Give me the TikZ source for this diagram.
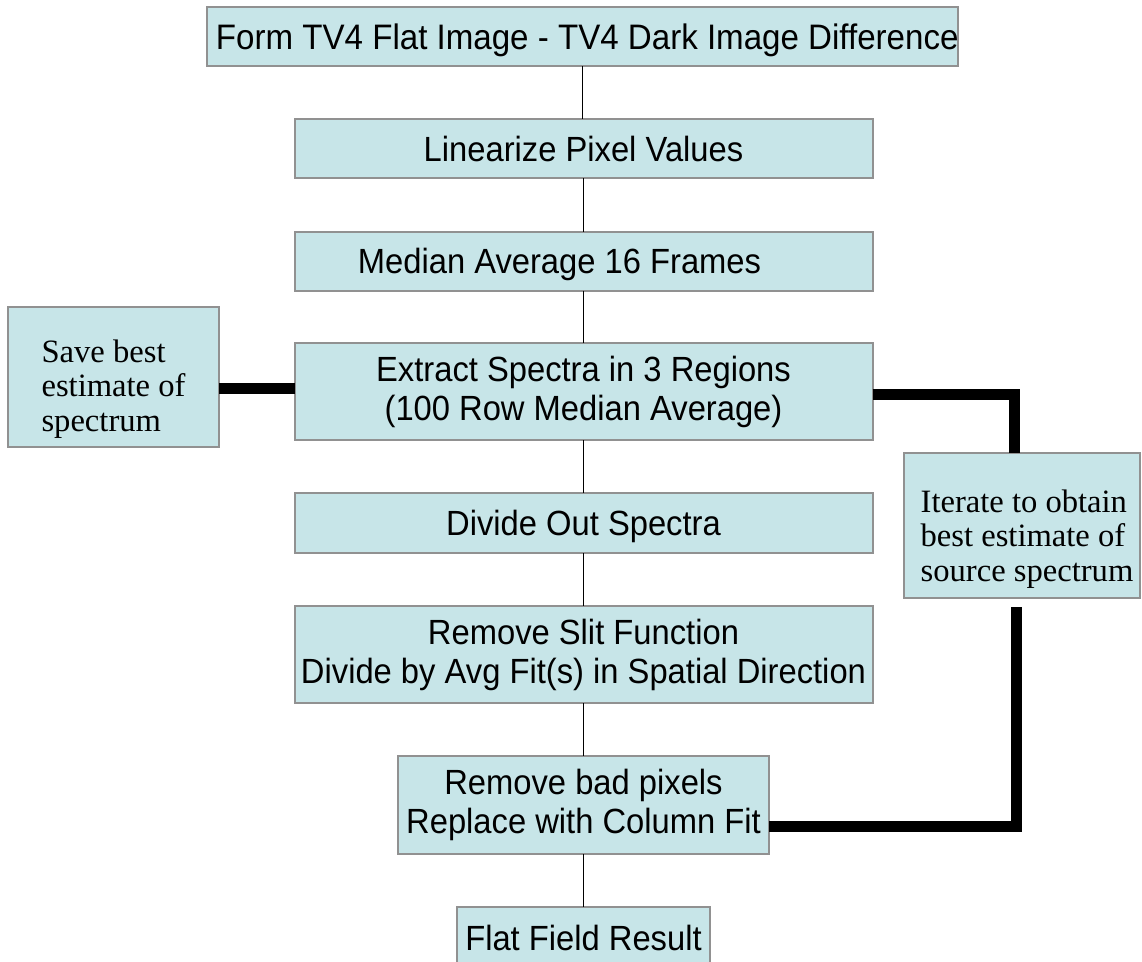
\documentclass[tikz,border=0pt]{standalone}
\usepackage{fontspec}
\setmainfont{Liberation Sans}[FakeStretch=0.935]
\newfontfamily\serifrm{Liberation Serif}
\definecolor{boxfill}{RGB}{199,229,232}
\definecolor{boxline}{RGB}{145,145,145}
\begin{document}
\begin{tikzpicture}[x=1pt,y=-1pt,
  box/.style={draw=boxline, line width=2pt, fill=boxfill, inner sep=0pt, outer sep=0pt,
    font=\fontsize{35}{39}\selectfont, align=center},
  onebox/.style={box, text height=25pt, text depth=0pt},
  sidebox/.style={box, font=\serifrm\fontsize{32.6}{34.5}\selectfont, align=left},
  thinc/.style={line width=1.6pt},
  thickc/.style={line width=11pt, line join=miter}]
\useasboundingbox (0,0) rectangle (1142,961);

\node[onebox, minimum width=751pt, minimum height=59pt, font=\fontsize{35.4}{39}\selectfont] (form) at (582.5,36.5)
  {\makebox[741pt][r]{Form TV4 Flat Image - TV4 Dark Image Difference}\hspace*{-11pt}};
\node[onebox, minimum width=578pt, minimum height=59pt] (lin) at (583.5,148.5) {Linearize Pixel Values};
\node[onebox, minimum width=578pt, minimum height=59pt] (med) at (583.5,261) {Median Average 16 Frames\hspace*{48pt}};
\node[box, minimum width=578pt, minimum height=97pt] (ext) at (583.5,391.5) {Extract Spectra in 3 Regions\\(100 Row Median Average)};
\node[onebox, minimum width=578pt, minimum height=60pt] (div) at (583.5,523) {Divide Out Spectra};
\node[box, minimum width=578pt, minimum height=97pt] (slit) at (583.5,654.5) {Remove Slit Function\\Divide by Avg Fit(s) in Spatial Direction};
\node[box, minimum width=371pt, minimum height=98pt] (bad) at (583.5,805) {Remove bad pixels\\Replace with Column Fit};
\node[onebox, minimum width=253pt, minimum height=62pt] (flat) at (583.5,938) {Flat Field Result};

\node[sidebox, minimum width=211pt, minimum height=140pt] (save) at (113.5,377)
  {\rule{0pt}{46pt}Save best\\estimate of\\spectrum};
\node[sidebox, minimum width=236pt, minimum height=145pt] (iter) at (1022,525.5)
  {\rule{0pt}{49pt}\hspace*{10pt}Iterate to obtain\\\hspace*{10pt}best estimate of\\\hspace*{10pt}source spectrum};

\foreach \a/\b in {form/lin, lin/med, med/ext, ext/div, div/slit, slit/bad, bad/flat}
  \draw[thinc] (\a.south) -- (\a.south |- \b.north);

\coordinate (lj) at (250,388);
\draw[thickc] (save.east |- lj) -- (ext.west |- lj);
\coordinate (rj) at (1014,394);
\draw[thickc] (ext.east |- rj) -- (rj) -- (rj |- iter.north);
\coordinate (bs) at (1016,607);
\coordinate (bc) at (1016,826);
\draw[thickc] (bs) -- (bc) -- (bc -| bad.east);
\end{tikzpicture}
\end{document}
